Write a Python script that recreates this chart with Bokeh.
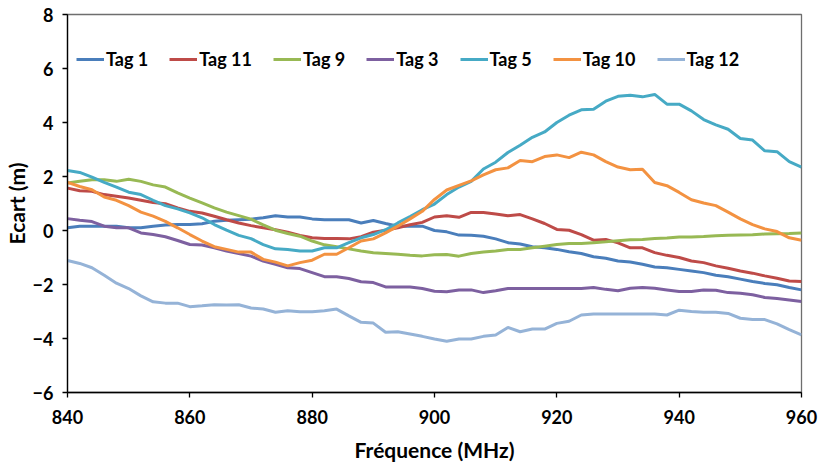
from bokeh.plotting import figure
from bokeh.models import Legend, LegendItem, FixedTicker
from bokeh.embed import file_html
from bokeh.resources import INLINE

freq = list(range(840, 962, 2))

tag1 = [0.10, 0.16, 0.16, 0.16, 0.16, 0.10, 0.10, 0.16, 0.20, 0.22, 0.22, 0.25, 0.34, 0.38, 0.40, 0.42,
        0.47, 0.55, 0.50, 0.50, 0.43, 0.40, 0.40, 0.40, 0.28, 0.37, 0.26, 0.16, 0.16, 0.16, 0.00,
        -0.05, -0.17, -0.18, -0.21, -0.31, -0.45, -0.50, -0.60, -0.64, -0.70, -0.79, -0.85, -0.97, -1.03, -1.13,
        -1.17, -1.25, -1.35, -1.38, -1.44, -1.50, -1.56, -1.66, -1.71, -1.80, -1.89, -1.96, -2.01, -2.11, -2.20]
tag11 = [1.57, 1.47, 1.45, 1.33, 1.27, 1.20, 1.12, 1.04, 0.99, 0.84, 0.71, 0.65, 0.53, 0.40, 0.28, 0.18,
         0.10, 0.03, -0.06, -0.18, -0.27, -0.30, -0.30, -0.31, -0.23, -0.06, 0.01, 0.10, 0.21, 0.30, 0.50,
         0.55, 0.49, 0.67, 0.67, 0.61, 0.55, 0.59, 0.43, 0.26, 0.04, 0.01, -0.15, -0.36, -0.33, -0.46,
         -0.64, -0.64, -0.82, -0.92, -1.00, -1.13, -1.19, -1.31, -1.40, -1.50, -1.58, -1.68, -1.77, -1.87, -1.89]
tag9 = [1.76, 1.82, 1.88, 1.88, 1.82, 1.90, 1.82, 1.69, 1.61, 1.39, 1.20, 1.02, 0.84, 0.68, 0.55, 0.42,
        0.21, 0.01, -0.11, -0.21, -0.39, -0.53, -0.60, -0.68, -0.76, -0.82, -0.85, -0.88, -0.92, -0.94, -0.90,
        -0.89, -0.95, -0.85, -0.80, -0.76, -0.70, -0.70, -0.64, -0.58, -0.52, -0.48, -0.48, -0.45, -0.42, -0.38,
        -0.34, -0.33, -0.30, -0.28, -0.24, -0.24, -0.22, -0.19, -0.18, -0.17, -0.16, -0.13, -0.12, -0.11, -0.09]
tag3 = [0.44, 0.38, 0.33, 0.16, 0.10, 0.10, -0.09, -0.15, -0.23, -0.37, -0.52, -0.54, -0.64, -0.76, -0.85, -0.95,
        -1.13, -1.25, -1.38, -1.41, -1.56, -1.71, -1.71, -1.78, -1.90, -1.93, -2.09, -2.09, -2.09, -2.15, -2.25,
        -2.27, -2.20, -2.20, -2.30, -2.23, -2.15, -2.15, -2.15, -2.15, -2.15, -2.15, -2.15, -2.11, -2.18, -2.23,
        -2.14, -2.11, -2.14, -2.20, -2.26, -2.26, -2.20, -2.21, -2.30, -2.32, -2.38, -2.48, -2.52, -2.57, -2.63]
tag5 = [2.22, 2.15, 1.98, 1.78, 1.61, 1.42, 1.33, 1.12, 0.92, 0.80, 0.65, 0.47, 0.22, 0.01, -0.18, -0.30,
        -0.52, -0.68, -0.70, -0.76, -0.76, -0.64, -0.64, -0.45, -0.27, -0.15, 0.03, 0.28, 0.52, 0.77, 0.98,
        1.33, 1.61, 1.82, 2.28, 2.53, 2.89, 3.16, 3.45, 3.65, 4.00, 4.27, 4.47, 4.49, 4.79, 4.97,
        5.01, 4.95, 5.04, 4.68, 4.68, 4.43, 4.11, 3.91, 3.75, 3.41, 3.35, 2.95, 2.92, 2.55, 2.35]
tag10 = [1.78, 1.63, 1.51, 1.24, 1.12, 0.92, 0.68, 0.53, 0.34, 0.10, -0.15, -0.39, -0.60, -0.70, -0.80, -0.80,
         -1.07, -1.17, -1.31, -1.19, -1.10, -0.88, -0.88, -0.64, -0.39, -0.31, -0.09, 0.16, 0.43, 0.71, 1.15,
         1.50, 1.67, 1.84, 2.06, 2.25, 2.32, 2.59, 2.55, 2.74, 2.80, 2.70, 2.90, 2.80, 2.55, 2.35,
         2.25, 2.27, 1.78, 1.66, 1.41, 1.14, 1.02, 0.92, 0.68, 0.43, 0.22, 0.06, -0.04, -0.27, -0.36]
tag12 = [-1.11, -1.22, -1.38, -1.66, -1.95, -2.15, -2.42, -2.64, -2.69, -2.69, -2.82, -2.79, -2.75, -2.76, -2.75, -2.87,
         -2.91, -3.03, -2.97, -3.01, -3.01, -2.97, -2.91, -3.16, -3.40, -3.43, -3.77, -3.75, -3.83, -3.92, -4.02,
         -4.10, -4.02, -4.02, -3.92, -3.87, -3.59, -3.75, -3.65, -3.65, -3.44, -3.36, -3.13, -3.09, -3.09, -3.09,
         -3.09, -3.09, -3.09, -3.13, -2.95, -3.00, -3.03, -3.03, -3.07, -3.25, -3.30, -3.30, -3.46, -3.67, -3.87]

series_names = ["Tag 1", "Tag 11", "Tag 9", "Tag 3", "Tag 5", "Tag 10", "Tag 12"]
series_values = [tag1, tag11, tag9, tag3, tag5, tag10, tag12]
colors = ["#4A7EBB", "#BE4B48", "#98B954", "#7D60A0", "#46AAC5", "#F39241", "#95B3D7"]

x_ticks = [840, 860, 880, 900, 920, 940, 960]
y_ticks = [-6, -4, -2, 0, 2, 4, 6, 8]

FONT = "Lato"

p = figure(width=819, height=464, x_range=(840, 960), y_range=(-6, 8),
           output_backend="svg", toolbar_location=None,
           min_border_left=67, min_border_right=18, min_border_top=14, min_border_bottom=70)
p.xgrid.visible = False
p.ygrid.visible = False
p.outline_line_color = "#6e6e6e"
p.outline_line_width = 1.3

items = []
for name, vals, col in zip(series_names, series_values, colors):
    r = p.line(freq, vals, line_color=col, line_width=3)
    items.append(LegendItem(label=name, renderers=[r]))

for ax in (p.xaxis[0], p.yaxis[0]):
    ax.axis_line_color = "black"
    ax.axis_line_width = 1.3
    ax.major_tick_line_color = "black"
    ax.major_tick_line_width = 1.3
    ax.major_tick_in = 0
    ax.major_tick_out = 5
    ax.minor_tick_line_color = None
    ax.major_label_text_font = FONT
    ax.major_label_text_font_style = "bold"
    ax.major_label_text_font_size = "18px"
    ax.major_label_text_color = "black"
    ax.axis_label_text_font = FONT
    ax.axis_label_text_font_style = "bold"
    ax.axis_label_text_font_size = "21px"
    ax.axis_label_text_color = "black"

p.xaxis[0].ticker = FixedTicker(ticks=x_ticks)
p.yaxis[0].ticker = FixedTicker(ticks=y_ticks)
p.xaxis[0].axis_label = "Fréquence (MHz)"
p.yaxis[0].axis_label = "Ecart (m)"
p.xaxis[0].major_label_standoff = 12
p.yaxis[0].major_label_standoff = 9
p.xaxis[0].axis_label_standoff = 10
p.yaxis[0].axis_label_standoff = 1

legend = Legend(items=items, orientation="horizontal", location=(9, 322),
                background_fill_alpha=0, border_line_color=None,
                padding=0, margin=0, spacing=21, label_standoff=2,
                glyph_width=28, glyph_height=20, label_height=20,
                label_text_font=FONT, label_text_font_style="bold",
                label_text_font_size="18px", label_text_color="black")
p.add_layout(legend, "center")

open("out.html", "w").write(file_html(p, INLINE))
